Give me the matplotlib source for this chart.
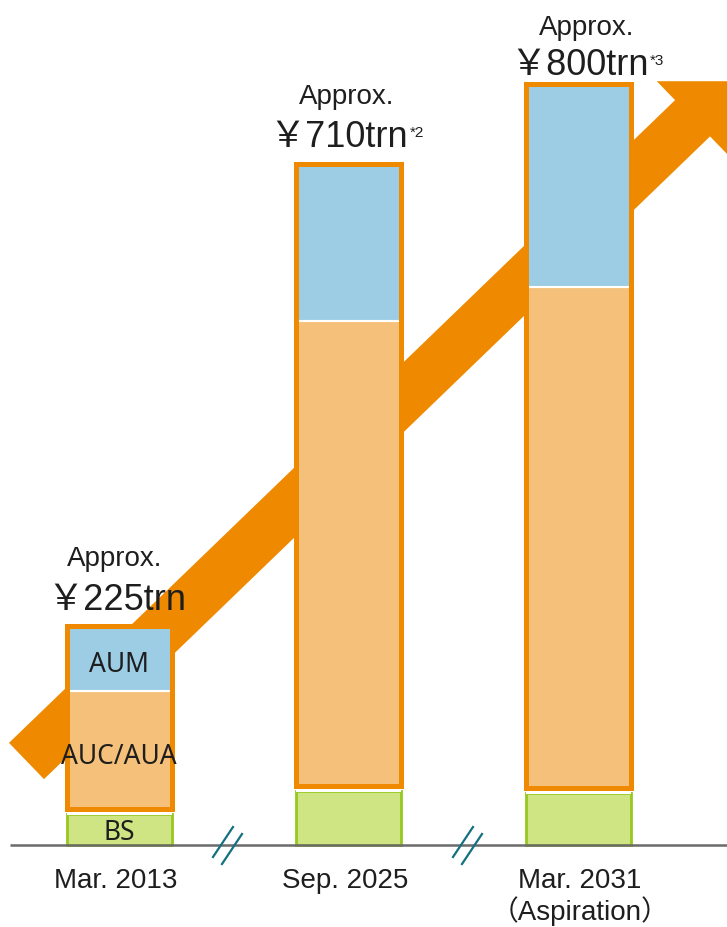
import numpy as np
import matplotlib
matplotlib.use("Agg")
import matplotlib.pyplot as plt
from matplotlib.patches import FancyArrow

# data (bar heights, arbitrary units)
periods = ["Mar. 2013", "Sep. 2025", "Mar. 2031"]
period_notes = ["", "", "（Aspiration）"]
totals = ["￥225trn", "￥710trn", "￥800trn"]
total_notes = ["", "*2", "*3"]
bs = np.array([31, 54, 52])
auc = np.array([118, 465, 501])
aum = np.array([65, 157, 203])
segment_names = ["BS", "AUC/AUA", "AUM"]

# layout / style
x_pos = np.array([119, 348, 578])
bar_w = 105
gap = 5
orange = "#ef8a00"
auc_c = "#f5c17a"
aum_c = "#9ccde5"
green_fill = "#cfe583"
green_edge = "#96c81f"
text_c = "#1e1e1e"
latin = ["Liberation Sans", "Noto Sans CJK JP"]
seg_font = ["Noto Sans", "DejaVu Sans"]

fig = plt.figure(figsize=(7.27, 9.27), dpi=100)
ax = fig.add_axes([0, 0, 1, 1])
ax.set_xlim(0, 727)
ax.set_ylim(-82, 845)
ax.axis("off")

# big growth arrow behind the bars
ax.add_patch(FancyArrow(26.5, 84, 704.5, 679.8, width=50.4, head_width=103,
                        head_length=53.4, length_includes_head=True,
                        color=orange, lw=0, zorder=1))

# BS (green) part
ax.bar(x_pos, bs, width=bar_w, color=green_fill, edgecolor=green_edge, lw=2, zorder=2)
ax.hlines(bs + 0.5, x_pos - bar_w / 2, x_pos + bar_w / 2, color="white", lw=1.5, zorder=3)

# AUC/AUA + AUM boxed together
box_bottom = bs + gap
ax.bar(x_pos, auc, bottom=box_bottom, width=bar_w, color=auc_c,
       edgecolor="white", lw=1.5, zorder=2)
ax.bar(x_pos, aum, bottom=box_bottom + auc, width=bar_w, color=aum_c,
       edgecolor="white", lw=1.5, zorder=2)
ax.bar(x_pos, auc + aum, bottom=box_bottom, width=bar_w, fill=False,
       edgecolor=orange, lw=3.6, zorder=4)

# baseline
ax.plot([10, 727], [0, 0], color="#6b6b6b", lw=1.8, zorder=5, solid_capstyle="butt")

# axis break marks
for bx in [228, 468]:
    ax.plot([bx - 15, bx + 5], [-12, 18], color="#13707f", lw=1.6, zorder=5)
    ax.plot([bx - 6, bx + 14], [-19, 11], color="#13707f", lw=1.6, zorder=5)

# segment labels on the first bar
mids = [bs[0] / 2 - 3, box_bottom[0] + auc[0] / 2 - 7, box_bottom[0] + auc[0] + aum[0] / 2 - 7]
for name, ym in zip(segment_names, mids):
    ax.text(x_pos[0], ym, name, ha="center", va="center", fontsize=19,
            family=seg_font, color=text_c, zorder=6)

# totals above the bars
tops = box_bottom + auc + aum
total_off = [16, 17, 9]
approx_off = [60, 60, 49]
total_dx = [-2.5, -9, 1.5]
approx_dx = [-4, -1, 9]
for i in range(3):
    ax.text(x_pos[i] + approx_dx[i], tops[i] + approx_off[i], "Approx.",
            ha="center", va="baseline", fontsize=20, family=latin,
            color=text_c, zorder=6)
    t = ax.text(x_pos[i] + total_dx[i], tops[i] + total_off[i], totals[i],
                ha="center", va="baseline", fontsize=26, family=latin,
                color=text_c, zorder=6)
    if total_notes[i]:
        ax.annotate(total_notes[i], xy=(1, 1), xycoords=t, xytext=(1, -4),
                    textcoords="offset points", ha="left", va="top",
                    fontsize=11, family=latin, color=text_c, zorder=6)

# period labels
period_dx = [-3, -3, 2]
for i in range(3):
    ax.text(x_pos[i] + period_dx[i], -43, periods[i], ha="center", va="baseline",
            fontsize=20, family=latin, color=text_c)
    if period_notes[i]:
        ax.text(x_pos[i] + period_dx[i], -75, period_notes[i], ha="center",
                va="baseline", fontsize=20, family=latin, color=text_c)

fig.savefig("out.png", dpi=100)
